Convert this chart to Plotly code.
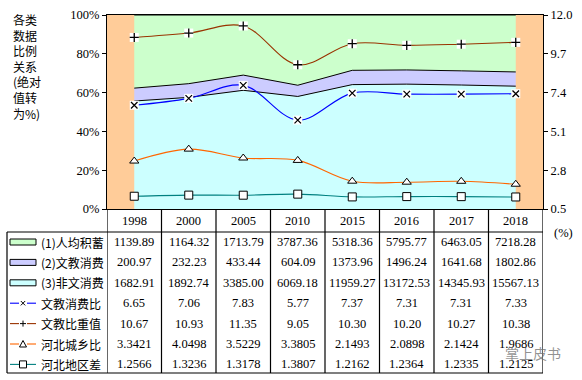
import plotly.graph_objects as go

# ---------------- data ----------------
years = ['1998', '2000', '2005', '2010', '2015', '2016', '2017', '2018']
savings = [1139.89, 1164.32, 1713.79, 3787.36, 5318.36, 5795.77, 6463.05, 7218.28]      # (1)人均积蓄
culture = [200.97, 232.23, 433.44, 604.09, 1373.96, 1496.24, 1641.68, 1802.86]          # (2)文教消费
nonculture = [1682.91, 1892.74, 3385.00, 6069.18, 11959.27, 13172.53, 14345.93, 15567.13]  # (3)非文消费
ratio_culture = [6.65, 7.06, 7.83, 5.77, 7.37, 7.31, 7.31, 7.33]        # 文教消费比
weight_culture = [10.67, 10.93, 11.35, 9.05, 10.30, 10.20, 10.27, 10.38]  # 文教比重值
urban_rural = [3.3421, 4.0498, 3.5229, 3.3805, 2.1493, 2.0898, 2.1424, 1.9686]  # 河北城乡比
regional = [1.2566, 1.3236, 1.3178, 1.3807, 1.2162, 1.2364, 1.2335, 1.2125]     # 河北地区差
left_ticks = [0, 20, 40, 60, 80, 100]
right_ticks = [0.5, 2.8, 5.1, 7.4, 9.7, 12.0]

# ---------------- geometry helpers ----------------
W, H = 582, 380
def px(X): return X / W
def py(Y): return 1 - Y / H

PL, PR, PT, PB = 107, 543, 15, 209
TABLE_TOP, TABLE_BOT = 232, 373
ROW0, ROWSTEP = 242, 20.4

SERIF = "Liberation Serif, Times New Roman, serif"
CJK = "Noto Sans CJK SC, sans-serif"

GREEN, PURPLE, CYAN, ORANGE_BG = "#CCFFCC", "#CCCCFF", "#CCFFFF", "#FFCC99"
C_BLUE, C_BROWN, C_ORANGE, C_TEAL = "#0000FF", "#993300", "#FF6600", "#008080"

fig = go.Figure()

# stacked 100% areas (bottom first)
for name, vals, col in [("(3)非文消费", nonculture, CYAN),
                        ("(2)文教消费", culture, PURPLE),
                        ("(1)人均积蓄", savings, GREEN)]:
    fig.add_trace(go.Scatter(x=years, y=vals, name=name, stackgroup="a",
                             groupnorm="percent", mode="lines",
                             line=dict(color="black", width=1),
                             fillcolor=col, showlegend=False))

# lines on secondary axis
def add_line(vals, color, symbol, name):
    if symbol in ("x-thin", "cross-thin"):
        fig.add_trace(go.Scatter(x=years, y=vals, yaxis="y2", mode="lines", name=name,
                                 line=dict(color=color, width=1.1, shape="spline", smoothing=1),
                                 showlegend=False))
        fig.add_trace(go.Scatter(x=years, y=vals, yaxis="y2", mode="markers",
                                 marker=dict(symbol="square", size=9, color="white",
                                             line=dict(width=0)),
                                 showlegend=False, cliponaxis=False))
        fig.add_trace(go.Scatter(x=years, y=vals, yaxis="y2", mode="markers",
                                 marker=dict(symbol=symbol, size=6.5, color="black",
                                             line=dict(color="black", width=1.3)),
                                 showlegend=False, cliponaxis=False))
    else:
        fig.add_trace(go.Scatter(x=years, y=vals, yaxis="y2", mode="lines+markers", name=name,
                                 line=dict(color=color, width=1.1, shape="spline", smoothing=1),
                                 marker=dict(symbol=symbol, size=8, color="white",
                                             line=dict(color="black", width=1)),
                                 showlegend=False, cliponaxis=False))

add_line(weight_culture, C_BROWN, "cross-thin", "文教比重值")
add_line(ratio_culture, C_BLUE, "x-thin", "文教消费比")
add_line(urban_rural, C_ORANGE, "triangle-up", "河北城乡比")
add_line(regional, C_TEAL, "square", "河北地区差")

shapes = []
annotations = []

def text(x, y, s, font, xref="paper", xanchor="center", yanchor="middle", align="center"):
    annotations.append(dict(x=x, y=y, xref=xref, yref="paper", text=s, showarrow=False,
                            xanchor=xanchor, yanchor=yanchor, align=align, font=font))

# ---------------- data table ----------------
LW = 1.2
def hline(y, x0, x1):
    shapes.append(dict(type="line", xref="paper", yref="paper", x0=px(x0), x1=px(x1),
                       y0=py(y), y1=py(y), line=dict(color="black", width=LW)))

hline(TABLE_TOP, 7, PR)
hline(TABLE_BOT, 7, PR)
shapes.append(dict(type="line", xref="paper", yref="paper", x0=px(7), x1=px(7),
                   y0=py(TABLE_TOP), y1=py(TABLE_BOT), line=dict(color="black", width=LW)))
for i in range(len(years) + 1):
    shapes.append(dict(type="line", xref="x", yref="paper", x0=i - 0.5, x1=i - 0.5,
                       y0=py(PB), y1=py(TABLE_BOT), line=dict(color="black", width=LW)))

num_font = dict(family=SERIF, size=12.5, color="black")
cjk_font = dict(family=CJK, size=12, color="black")

# year header
for i, yr in enumerate(years):
    text(i, py(220.5), yr, num_font, xref="x")

rows = [
    ("(1)人均积蓄", savings, "{:.2f}", ("area", GREEN)),
    ("(2)文教消费", culture, "{:.2f}", ("area", PURPLE)),
    ("(3)非文消费", nonculture, "{:.2f}", ("area", CYAN)),
    ("文教消费比", ratio_culture, "{:.2f}", ("x", C_BLUE)),
    ("文教比重值", weight_culture, "{:.2f}", ("+", C_BROWN)),
    ("河北城乡比", urban_rural, "{:.4f}", ("tri", C_ORANGE)),
    ("河北地区差", regional, "{:.4f}", ("sq", C_TEAL)),
]

for r, (label, vals, fmt, (kind, col)) in enumerate(rows):
    yc = ROW0 + r * ROWSTEP
    for i, v in enumerate(vals):
        text(i, py(yc), fmt.format(v), num_font, xref="x")
    text(px(39), py(yc), label, cjk_font, xanchor="left")
    if kind == "area":
        shapes.append(dict(type="rect", xref="paper", yref="paper", x0=px(10), x1=px(36),
                           y0=py(yc - 3), y1=py(yc + 3), fillcolor=col,
                           line=dict(color="black", width=1)))
    else:
        shapes.append(dict(type="line", xref="paper", yref="paper", x0=px(10), x1=px(36),
                           y0=py(yc), y1=py(yc), line=dict(color=col, width=1.1)))
        shapes.append(dict(type="rect", xref="paper", yref="paper", x0=px(19), x1=px(27),
                           y0=py(yc - 4), y1=py(yc + 4), fillcolor="white",
                           line=dict(width=0)))
        cx = 23
        if kind == "x":
            for dx in (2.2, -2.2):
                shapes.append(dict(type="line", xref="paper", yref="paper",
                                   x0=px(cx - dx), x1=px(cx + dx),
                                   y0=py(yc - 2.2), y1=py(yc + 2.2),
                                   line=dict(color="black", width=1)))
        elif kind == "+":
            shapes.append(dict(type="line", xref="paper", yref="paper", x0=px(cx - 3),
                               x1=px(cx + 3), y0=py(yc), y1=py(yc),
                               line=dict(color="black", width=1)))
            shapes.append(dict(type="line", xref="paper", yref="paper", x0=px(cx),
                               x1=px(cx), y0=py(yc - 3), y1=py(yc + 3),
                               line=dict(color="black", width=1)))
        elif kind == "tri":
            path = "M {} {} L {} {} L {} {} Z".format(px(cx - 3.5), py(yc + 3), px(cx + 3.5),
                                                      py(yc + 3), px(cx), py(yc - 3.5))
            shapes.append(dict(type="path", xref="paper", yref="paper", path=path,
                               fillcolor="white", line=dict(color="black", width=1)))
        elif kind == "sq":
            shapes.append(dict(type="rect", xref="paper", yref="paper", x0=px(cx - 3.5),
                               x1=px(cx + 3.5), y0=py(yc - 3.5), y1=py(yc + 3.5),
                               fillcolor="white", line=dict(color="black", width=1)))

# left axis title
text(px(11), py(9), "各类<br>数据<br>比例<br>关系<br>(绝对<br>值转<br>为%)",
     dict(family=CJK, size=12, color="black"), xanchor="left", yanchor="top", align="left")
# right unit
text(px(563), py(233), "(%)", num_font)
# watermark
text(px(533), py(353), "掌上皮书", dict(family=CJK, size=14, color="rgba(110,110,110,0.75)"))

fig.update_layout(
    width=W, height=H,
    margin=dict(l=0, r=0, t=0, b=0, autoexpand=False),
    paper_bgcolor="white",
    plot_bgcolor=ORANGE_BG,
    showlegend=False,
    xaxis=dict(type="category", domain=[px(PL), px(PR)], range=[-0.5, len(years) - 0.5],
               showticklabels=False, ticks="", showgrid=False, zeroline=False,
               showline=True, linecolor="black", linewidth=LW, mirror=True),
    yaxis=dict(domain=[py(PB), py(PT)], range=[0, 100], tickvals=left_ticks,
               ticktext=[f"{t}%" for t in left_ticks], ticks="outside", ticklen=4,
               tickcolor="black", showgrid=False, zeroline=False, showline=True,
               linecolor="black", linewidth=LW,
               tickfont=dict(family=SERIF, size=12.5, color="black")),
    yaxis2=dict(overlaying="y", side="right", range=[0.5, 12.0], tickvals=right_ticks,
                ticktext=[f"{t:.1f}" for t in right_ticks], ticks="outside", ticklen=4,
                tickcolor="black", showgrid=False, zeroline=False, showline=True,
                linecolor="black", linewidth=LW,
                tickfont=dict(family=SERIF, size=12.5, color="black")),
    shapes=shapes,
    annotations=annotations,
)

fig.write_html("out.html", config={"displayModeBar": False},
               post_script="document.body.style.margin='0';document.body.style.overflow='hidden';")
